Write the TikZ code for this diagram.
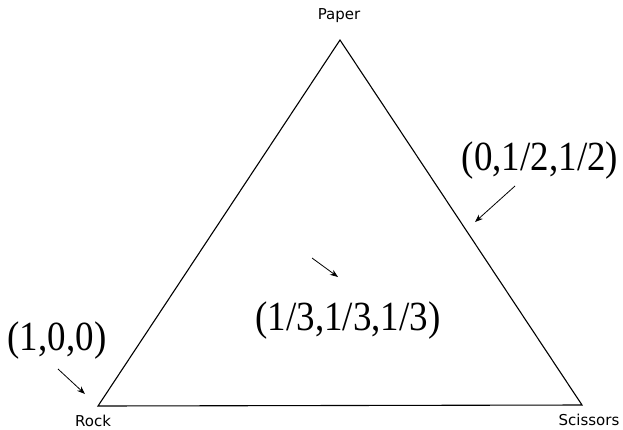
\documentclass[tikz,border=0pt]{standalone}
\usepackage{graphicx}
\usepackage{fontspec}
\setmainfont{Liberation Serif}
\newfontfamily\cornerfont{DejaVu Sans}
\usetikzlibrary{arrows.meta,positioning}
\newcommand{\tallmix}[1]{\scalebox{1}[1.12]{#1}}

\begin{document}
\begin{tikzpicture}[x=1pt,y=-1pt,
  cornerlabel/.style={font=\cornerfont\fontsize{15}{18}\selectfont},
  mixlabel/.style={font=\fontsize{37}{42}\selectfont,anchor=base,inner sep=0pt},
  pointer/.style={-{Stealth[length=8pt,width=6pt]},line width=0.8pt}]
  \useasboundingbox (0,0) rectangle (623,429);
  % corners of the simplex
  \coordinate (P) at (340,40);
  \coordinate (R) at (98,406);
  \coordinate (S) at (582,405);
  \draw[line width=1.1pt,line join=miter] (P) -- (R) -- (S) -- cycle;
  \node[cornerlabel] (paper) at (339,16) {Paper};
  \node[cornerlabel] (rock) at (93,421) {Rock};
  \node[cornerlabel] (scissors) at (589,420) {Scissors};
  % mixed strategies
  \node[mixlabel] (half) at (540,170) {\tallmix{(0,1/2,1/2)}};
  \node[mixlabel] (third) at (348,330) {\tallmix{(1/3,1/3,1/3)}};
  \node[mixlabel] (pure) at (57,350) {\tallmix{(1,0,0)}};
  \coordinate (halftip) at (475,222);
  \coordinate (halftail) at (515,186);
  \coordinate (thirdtip) at (338,277);
  \coordinate (thirdtail) at (312,258);
  \coordinate (puretip) at (85,394);
  \coordinate (puretail) at (58,369);
  \draw[pointer] (halftail) -- (halftip);
  \draw[pointer] (thirdtail) -- (thirdtip);
  \draw[pointer] (puretail) -- (puretip);
\end{tikzpicture}
\end{document}
